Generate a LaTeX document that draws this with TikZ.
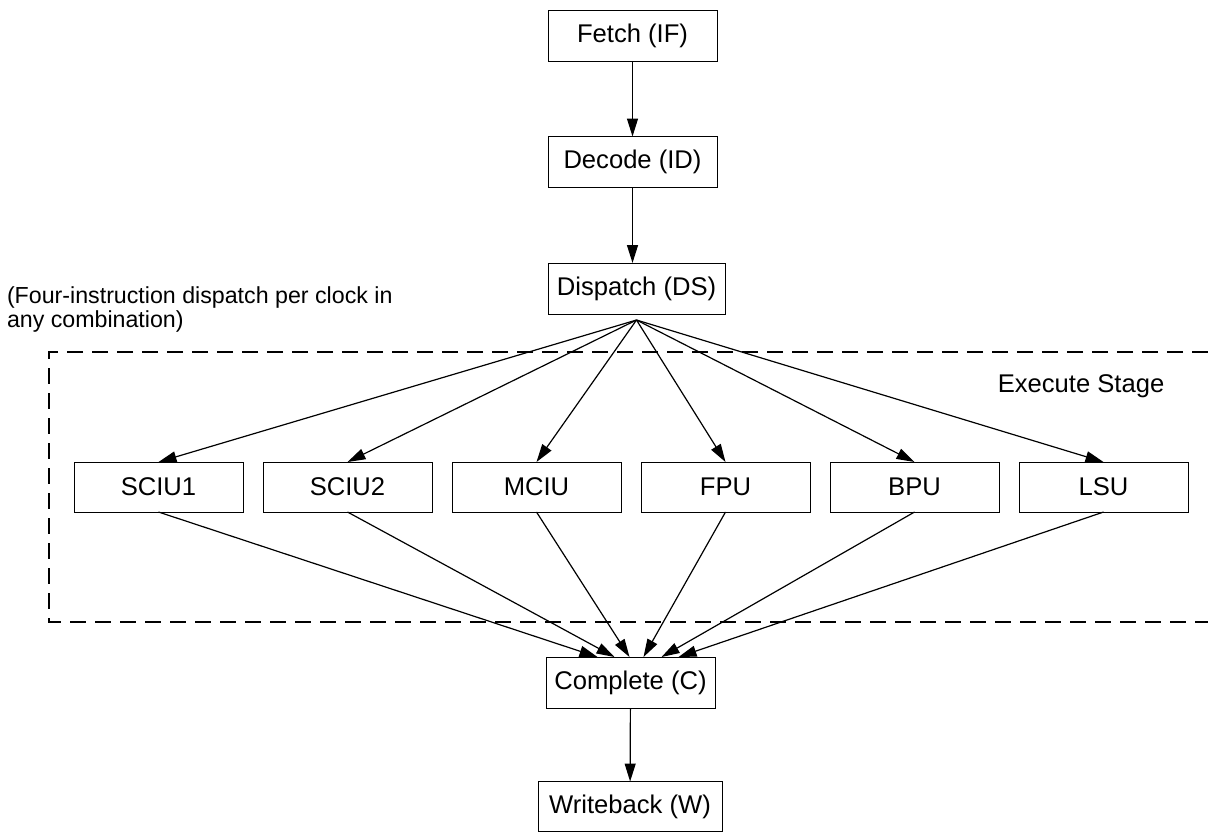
\documentclass[tikz,border=0pt]{standalone}
\usepackage{fontspec}
\setmainfont{Liberation Sans}
\usetikzlibrary{arrows.meta}

\begin{document}
\begin{tikzpicture}[x=0.5pt, y=-0.5pt,
  every node/.style={font=\fontsize{12.8}{15}\selectfont, inner sep=0pt, outer sep=0pt},
  stagebox/.style={draw, line width=0.5pt, minimum width=84.5pt, minimum height=25.5pt},
  unitbox/.style={draw, line width=0.5pt, minimum width=84.5pt, minimum height=25pt},
  flow/.style={-{Triangle[length=9pt,width=5.5pt]}, line width=0.6pt}]
\useasboundingbox (0,0) rectangle (1208,832);

\node[stagebox] (fetch) at (632.5,35.5) {Fetch (IF)};
\node[stagebox] (decode) at (632.5,162) {Decode (ID)};
\node[stagebox, minimum width=88.5pt] (dispatch) at (636.5,288.5) {Dispatch (DS)};
\node[stagebox] (complete) at (630.5,682.5) {Complete (C)};
\node[stagebox, minimum width=92pt, minimum height=25pt] (writeback) at (630,806.5) {Writeback (W)};

\node[unitbox] (sciu1) at (158.5,487) {SCIU1};
\node[unitbox] (sciu2) at (347.5,487) {SCIU2};
\node[unitbox] (mciu) at (536.5,487) {MCIU};
\node[unitbox] (fpu) at (725.5,487) {FPU};
\node[unitbox] (bpu) at (914.5,487) {BPU};
\node[unitbox] (lsu) at (1103.5,487) {LSU};

\node[anchor=north west, align=left, font=\fontsize{11.6}{12}\selectfont] (note) at (7,287) {(Four-instruction dispatch per clock in\\any combination)};
\node (execlabel) at (1081,386) {Execute Stage};

\draw[line width=1.3pt, dash pattern=on 8pt off 4.5pt] (1208,352) -- (49,352) -- (49,622) -- (1208,622);

\coordinate (fan) at ([yshift=-3pt]dispatch.south);

\draw[flow] (fetch) -- (decode);
\draw[flow] (decode.south) -- (decode.south |- dispatch.north);
\draw[flow] (complete) -- (writeback);

\foreach \u/\dx in {sciu1/-16.5,sciu2/-8,mciu/-0.5,fpu/6.5,bpu/15.5,lsu/24}{
  \draw[flow] (fan) -- (\u.north);
  \draw[flow] (\u.south) -- ([xshift=\dx pt]complete.north);
}
\end{tikzpicture}
\end{document}
